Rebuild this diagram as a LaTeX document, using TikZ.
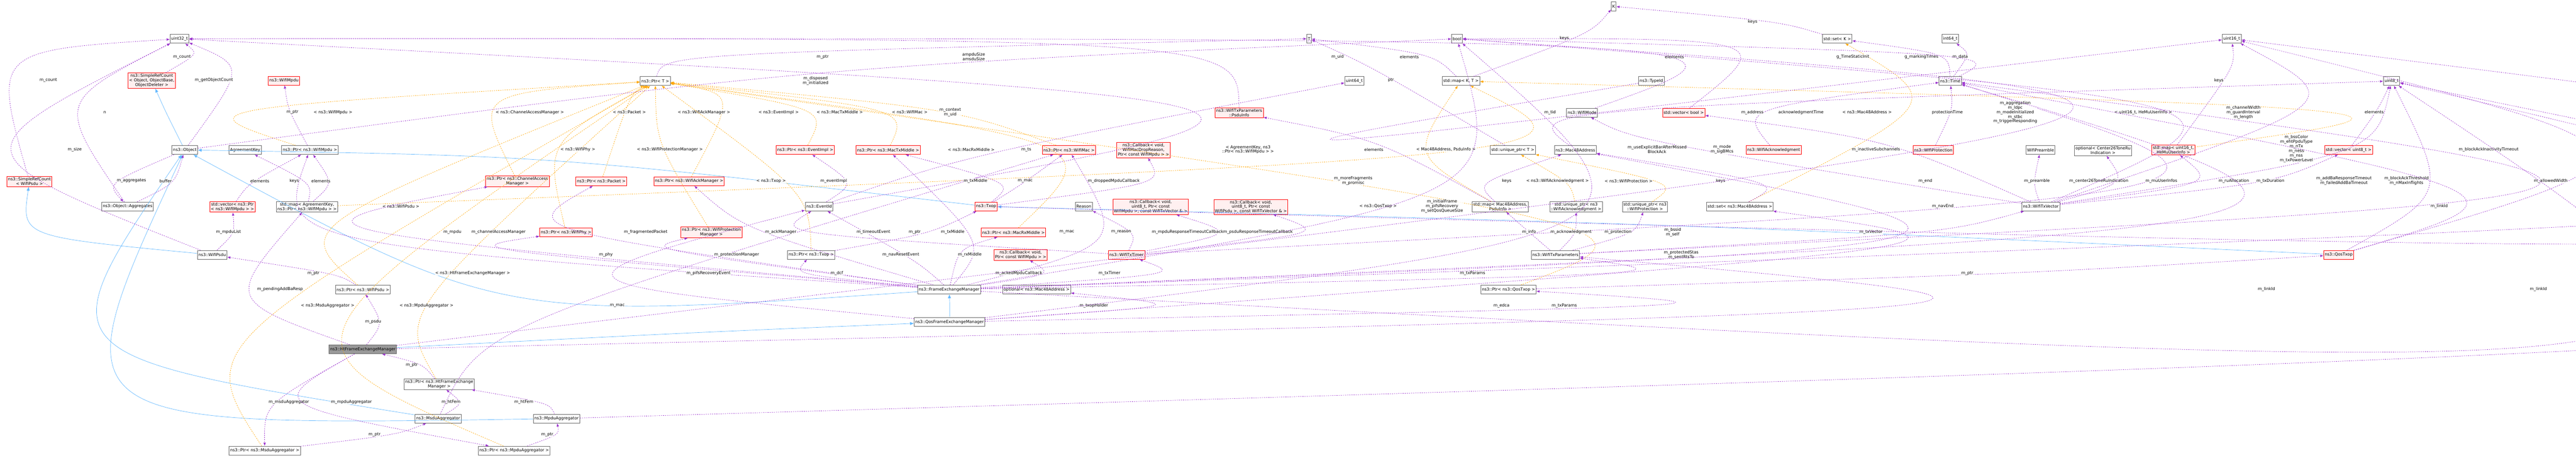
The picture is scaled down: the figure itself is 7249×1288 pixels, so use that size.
\documentclass[tikz,border=0pt]{standalone}
\usepackage{fontspec}
\setmainfont{DejaVu Sans}
\usetikzlibrary{calc,arrows.meta}
\definecolor{pur}{HTML}{9A32CD}
\definecolor{org}{HTML}{FFA500}
\definecolor{blu}{HTML}{63B8FF}
\definecolor{redbox}{HTML}{FF0000}
\definecolor{redfill}{HTML}{FFF0F0}
\tikzset{
 box/.style={draw=black!60,line width=1.2pt,fill=white,inner sep=3pt,minimum height=25pt,align=center,font=\fontsize{11.5}{13}\selectfont},
 rbox/.style={box,draw=redbox,fill=redfill},
 gbox/.style={box,fill=black!40},
 lbl/.style={font=\fontsize{11.5}{13}\selectfont,align=center,fill=white,fill opacity=.8,text opacity=1,inner sep=1pt},
 mem/.style={pur,dashed,line width=1pt,-{Latex[length=9pt,width=7pt]}},
 tmpl/.style={org,dashed,line width=1pt,-{Latex[length=9pt,width=7pt]}},
 inh/.style={blu,line width=1pt,-{Latex[length=11pt,width=9pt]}},
}
\newcommand\E[5]{\draw[#1] (#2) .. controls ($2*(#4)-0.5*(#2.center)-0.5*(#3.center)$) .. (#3);
 \node[lbl] at (#4) {#5};}
\newcommand\B[3]{\draw[inh] (#1) .. controls ($2*(#3)-0.5*(#1.center)-0.5*(#2.center)$) .. (#2);}
\begin{document}
\begin{tikzpicture}[x=1pt,y=-1pt]
\useasboundingbox (0,0) rectangle (7249,1288);
% nodes
\node[box] (u32) at (505,109) {uint32\_t};
\node[rbox] (srcObj) at (427,227) {ns3::SimpleRefCount\\< Object, ObjectBase,\\ObjectDeleter >};
\node[rbox] (wmpdu) at (799,227) {ns3::WifiMpdu};
\node[box] (obj) at (520,422) {ns3::Object};
\node[box] (agk) at (690,422) {AgreementKey};
\node[box] (pmpdu) at (872,422) {ns3::Ptr< ns3::WifiMpdu >};
\node[rbox] (srcPsdu) at (83,511) {ns3::SimpleRefCount\\< WifiPsdu >};
\node[box] (aggr) at (359,581) {ns3::Object::Aggregates};
\node[rbox] (vecmpdu) at (654,582) {std::vector< ns3::Ptr\\< ns3::WifiMpdu > >};
\node[box] (mapagk) at (864,582) {std::map< AgreementKey,\\ns3::Ptr< ns3::WifiMpdu > >};
\node[box] (psdu) at (597,717) {ns3::WifiPsdu};
\node[box] (ppsdu) at (1021,815) {ns3::Ptr< ns3::WifiPsdu >};
\node[gbox] (htfem) at (1021,983) {ns3::HtFrameExchangeManager};
\node[box] (phtfem) at (1236,1081) {ns3::Ptr< ns3::HtFrameExchange\\Manager >};
\node[box] (msdu) at (1233,1178) {ns3::MsduAggregator};
\node[box] (pmsdu) at (745,1268) {ns3::Ptr< ns3::MsduAggregator >};
\node[box] (ptrT) at (1844,228) {ns3::Ptr< T >};
\node[rbox] (pcam) at (1456,510) {ns3::Ptr< ns3::ChannelAccess\\Manager >};
\node[rbox] (ppkt) at (1692,510) {ns3::Ptr< ns3::Packet >};
\node[rbox] (pack) at (1939,510) {ns3::Ptr< ns3::WifiAckManager >};
\node[rbox] (pevi) at (2266,422) {ns3::Ptr< ns3::EventImpl >};
\node[box] (evid) at (2305,581) {ns3::EventId};
\node[rbox] (pphy) at (1593,654) {ns3::Ptr< ns3::WifiPhy >};
\node[rbox] (pprot) at (2002,654) {ns3::Ptr< ns3::WifiProtection\\Manager >};
\node[box] (ptxop) at (2283,717) {ns3::Ptr< ns3::Txop >};
\node[box] (mpdu) at (1566,1178) {ns3::MpduAggregator};
\node[box] (pmpduag) at (1447,1268) {ns3::Ptr< ns3::MpduAggregator >};
\node[rbox] (ptxm) at (2499,422) {ns3::Ptr< ns3::MacTxMiddle >};
\node[rbox] (psduinfo) at (3487,317) {ns3::WifiTxParameters\\::PsduInfo};
\node[rbox] (pmac) at (3008,422) {ns3::Ptr< ns3::WifiMac >};
\node[rbox] (cbdrop) at (3218,422) {ns3::Callback< void,\\ WifiMacDropReason,\\ Ptr< const WifiMpdu > >};
\node[rbox] (txop) at (2775,581) {ns3::Txop};
\node[box] (reason) at (3050,581) {Reason};
\node[rbox] (cbmpdu) at (3238,582) {ns3::Callback< void,\\ uint8\_t, Ptr< const\\ WifiMpdu >, const WifiTxVector \& >};
\node[rbox] (cbpsdu) at (3520,582) {ns3::Callback< void,\\ uint8\_t, Ptr< const\\ WifiPsdu >, const WifiTxVector \& >};
\node[rbox] (prxm) at (2852,654) {ns3::Ptr< ns3::MacRxMiddle >};
\node[rbox] (cback) at (2872,717) {ns3::Callback< void,\\ Ptr< const WifiMpdu > >};
\node[rbox] (txtimer) at (3170,717) {ns3::WifiTxTimer};
\node[box] (fem) at (2671,815) {ns3::FrameExchangeManager};
\node[box] (optmac) at (2917,815) {optional< ns3::Mac48Address >};
\node[box] (qfem) at (2672,906) {ns3::QosFrameExchangeManager};
\node[box] (K) at (4541,18) {K};
\node[box] (T) at (3684,109) {T};
\node[box] (bool) at (4100,109) {bool};
\node[box] (u64) at (3811,228) {uint64\_t};
\node[box] (mapKT) at (4111,228) {std::map< K, T >};
\node[box] (typeid) at (4647,228) {ns3::TypeId};
\node[box] (wmode) at (4452,317) {ns3::WifiMode};
\node[rbox] (vecbool) at (4738,317) {std::vector< bool >};
\node[box] (uptrT) at (4257,422) {std::unique\_ptr< T >};
\node[box] (mac) at (4433,422) {ns3::Mac48Address};
\node[box] (mapmac) at (4222,582) {std::map< Mac48Address,\\PsduInfo >};
\node[box] (upack) at (4435,582) {std::unique\_ptr< ns3\\::WifiAcknowledgment >};
\node[box] (upprot) at (4629,582) {std::unique\_ptr< ns3\\::WifiProtection >};
\node[box] (setmac) at (4896,581) {std::set< ns3::Mac48Address >};
\node[box] (txparams) at (4377,717) {ns3::WifiTxParameters};
\node[box] (pqtxop) at (4245,815) {ns3::Ptr< ns3::QosTxop >};
\node[box] (setK) at (5170,109) {std::set< K >};
\node[box] (i64) at (5488,109) {int64\_t};
\node[box] (time) at (5488,228) {ns3::Time};
\node[rbox] (wack) at (4991,422) {ns3::WifiAcknowledgment};
\node[rbox] (wprot) at (5440,422) {ns3::WifiProtection};
\node[box] (wpre) at (5742,422) {WifiPreamble};
\node[box] (optc) at (5918,424) {optional< Center26ToneRu\\Indication >};
\node[box] (txvec) at (5743,581) {ns3::WifiTxVector};
\node[box] (u16) at (6280,109) {uint16\_t};
\node[box] (u8) at (6730,228) {uint8\_t};
\node[rbox] (mapu16) at (6116,422) {std::map< uint16\_t,\\HeMuUserInfo >};
\node[rbox] (vecu8) at (6609,422) {std::vector< uint8\_t >};
\node[rbox] (qtxop) at (6581,717) {ns3::QosTxop};
% inheritance
\B{obj}{srcObj}{470,320}
\B{psdu}{srcPsdu}{200,640}
\B{txop}{obj}{1600,470}
\B{qtxop}{txop}{4700,640}
\B{fem}{obj}{1500,760}
\B{qfem}{fem}{2672,860}
\B{htfem}{qfem}{1900,940}
\B{msdu}{obj}{500,900}
\B{mpdu}{obj}{600,1000}
% templates
\E{tmpl}{pmpdu}{ptrT}{937,316}{< ns3::WifiMpdu >}
\E{tmpl}{ppsdu}{ptrT}{1128,581}{< ns3::WifiPsdu >}
\E{tmpl}{pmsdu}{ptrT}{922,860}{< ns3::MsduAggregator >}
\E{tmpl}{phtfem}{ptrT}{1330,769}{< ns3::HtFrameExchangeManager >}
\E{tmpl}{pmpduag}{ptrT}{1200,860}{< ns3::MpduAggregator >}
\E{tmpl}{pcam}{ptrT}{1491,316}{< ns3::ChannelAccessManager >}
\E{tmpl}{ppkt}{ptrT}{1771,316}{< ns3::Packet >}
\E{tmpl}{pphy}{ptrT}{1626,421}{< ns3::WifiPhy >}
\E{tmpl}{pack}{ptrT}{1981,316}{< ns3::WifiAckManager >}
\E{tmpl}{pprot}{ptrT}{1885,421}{< ns3::WifiProtectionManager >}
\E{tmpl}{pevi}{ptrT}{2191,316}{< ns3::EventImpl >}
\E{tmpl}{ptxop}{ptrT}{2170,509}{< ns3::Txop >}
\E{tmpl}{ptxm}{ptrT}{2363,316}{< ns3::MacTxMiddle >}
\E{tmpl}{pmac}{ptrT}{2560,316}{< ns3::WifiMac >}
\E{tmpl}{prxm}{ptrT}{2733,421}{< ns3::MacRxMiddle >}
\E{tmpl}{pqtxop}{ptrT}{3878,581}{< ns3::QosTxop >}
\E{tmpl}{mapagk}{mapKT}{3512,421}{< AgreementKey, ns3\\::Ptr< ns3::WifiMpdu > >}
\E{tmpl}{mapmac}{mapKT}{4069,421}{< Mac48Address, PsduInfo >}
\E{tmpl}{mapu16}{mapKT}{6031,316}{< uint16\_t, HeMuUserInfo >}
\E{tmpl}{upack}{uptrT}{4383,509}{< ns3::WifiAcknowledgment >}
\E{tmpl}{upprot}{uptrT}{4583,509}{< ns3::WifiProtection >}
\E{tmpl}{setmac}{setK}{5254,316}{< ns3::Mac48Address >}
% members
\E{mem}{srcPsdu}{u32}{136,226}{m\_count}
\E{mem}{srcObj}{u32}{512,160}{m\_count}
\E{mem}{obj}{u32}{602,226}{m\_getObjectCount}
\E{mem}{aggr}{u32}{295,316}{n}
\E{mem}{psdu}{u32}{210,421}{m\_size}
\E{mem}{obj}{aggr}{370,509}{m\_aggregates}
\E{mem}{aggr}{obj}{466,509}{buffer}
\E{mem}{pmpdu}{wmpdu}{823,316}{m\_ptr}
\E{mem}{vecmpdu}{pmpdu}{731,509}{elements}
\E{mem}{mapagk}{agk}{828,509}{keys}
\E{mem}{mapagk}{pmpdu}{903,509}{elements}
\E{mem}{psdu}{vecmpdu}{643,653}{m\_mpduList}
\E{mem}{ppsdu}{psdu}{882,769}{m\_ptr}
\E{mem}{htfem}{mapagk}{788,814}{m\_pendingAddBaResp}
\E{mem}{htfem}{ppsdu}{1050,905}{m\_psdu}
\E{mem}{phtfem}{htfem}{1159,1028}{m\_ptr}
\E{mem}{htfem}{pmsdu}{813,1132}{m\_msduAggregator}
\E{mem}{htfem}{pmpduag}{989,1132}{m\_mpduAggregator}
\E{mem}{pmsdu}{msdu}{1054,1223}{m\_ptr}
\E{mem}{pmpduag}{mpdu}{1540,1223}{m\_ptr}
\E{mem}{msdu}{phtfem}{1269,1132}{m\_htFem}
\E{mem}{mpdu}{phtfem}{1474,1132}{m\_htFem}
\E{mem}{msdu}{pmac}{1737,860}{m\_mac}
\E{mem}{fem}{pmpdu}{1273,653}{m\_mpdu}
\E{mem}{fem}{pcam}{1403,653}{m\_channelAccessManager}
\E{mem}{fem}{pphy}{1705,717}{m\_phy}
\E{mem}{fem}{ppkt}{1817,653}{m\_fragmentedPacket}
\E{mem}{fem}{pprot}{2073,717}{m\_protectionManager}
\E{mem}{fem}{pack}{2197,653}{m\_ackManager}
\E{mem}{fem}{ptxop}{2355,769}{m\_dcf}
\E{mem}{qfem}{evid}{1994,769}{m\_pifsRecoveryEvent}
\E{mem}{evid}{pevi}{2346,509}{m\_eventImpl}
\E{mem}{ptrT}{T}{2315,160}{m\_ptr}
\E{mem}{obj}{bool}{2295,227}{m\_disposed\\m\_initialized}
\E{mem}{evid}{u32}{2674,316}{m\_context\\m\_uid}
\E{mem}{evid}{u64}{2888,421}{m\_ts}
\E{mem}{txop}{ptxm}{2745,509}{m\_txMiddle}
\E{mem}{txop}{pmac}{2885,509}{m\_mac}
\E{mem}{txop}{cbdrop}{3134,509}{m\_droppedMpduCallback}
\E{mem}{fem}{ptxm}{2681,653}{m\_txMiddle}
\E{mem}{fem}{prxm}{2729,717}{m\_rxMiddle}
\E{mem}{fem}{pmac}{3002,653}{m\_mac}
\E{mem}{fem}{cback}{2867,769}{m\_ackedMpduCallback}
\E{mem}{fem}{txtimer}{3122,769}{m\_txTimer}
\E{mem}{fem}{evid}{2535,717}{m\_navResetEvent}
\E{mem}{txtimer}{reason}{3155,653}{m\_reason}
\E{mem}{txtimer}{cbmpdu}{3342,653}{m\_mpduResponseTimeoutCallback}
\E{mem}{txtimer}{cbpsdu}{3540,653}{m\_psduResponseTimeoutCallback}
\E{mem}{txtimer}{evid}{2458,653}{m\_timeoutEvent}
\E{mem}{ptxop}{txop}{2574,653}{m\_ptr}
\E{mem}{txtimer}{time}{5418,509}{m\_end}
\E{mem}{fem}{txparams}{4144,769}{m\_txParams}
\E{mem}{htfem}{txparams}{4402,860}{m\_txParams}
\E{mem}{txparams}{mapmac}{4303,653}{m\_info}
\E{mem}{txparams}{upack}{4421,653}{m\_acknowledgment}
\E{mem}{txparams}{upprot}{4553,653}{m\_protection}
\E{mem}{txparams}{txvec}{5265,653}{m\_txVector}
\E{mem}{mapmac}{mac}{4240,509}{keys}
\E{mem}{mapmac}{psduinfo}{3866,421}{elements}
\E{mem}{uptrT}{T}{3914,226}{ptr}
\E{mem}{mapKT}{K}{4402,108}{keys}
\E{mem}{mapKT}{T}{3966,160}{elements}
\E{mem}{setK}{K}{4932,62}{keys}
\E{mem}{vecbool}{bool}{4712,160}{elements}
\E{mem}{setmac}{mac}{4842,509}{keys}
\E{mem}{wack}{time}{5068,316}{acknowledgmentTime}
\E{mem}{wprot}{time}{5480,316}{protectionTime}
\E{mem}{time}{i64}{5516,160}{m\_data}
\E{mem}{time}{setK}{5407,160}{g\_markingTimes}
\E{mem}{time}{bool}{5214,160}{g\_TimeStaticInit}
\E{mem}{wmode}{u32}{3764,160}{m\_uid}
\E{mem}{txvec}{wmode}{4846,421}{m\_mode\\m\_sigBMcs}
\E{mem}{txvec}{wpre}{5732,509}{m\_preamble}
\E{mem}{txvec}{optc}{5906,509}{m\_center26ToneRuIndication}
\E{mem}{txvec}{mapu16}{6082,509}{m\_muUserInfos}
\E{mem}{txvec}{vecbool}{5279,421}{m\_inactiveSubchannels}
\E{mem}{txvec}{bool}{5671,316}{m\_aggregation\\m\_ldpc\\m\_modeInitialized\\m\_stbc\\m\_triggerResponding}
\E{mem}{txvec}{u16}{6313,316}{m\_channelWidth\\m\_guardInterval\\m\_length}
\E{mem}{txvec}{u8}{6462,419}{m\_bssColor\\m\_ehtPpduType\\m\_nTx\\m\_ness\\m\_nss\\m\_txPowerLevel}
\E{mem}{txvec}{vecu8}{6286,509}{m\_ruAllocation}
\E{mem}{txparams}{time}{6389,509}{m\_txDuration}
\E{mem}{mapu16}{u16}{6244,226}{keys}
\E{mem}{vecu8}{u8}{6681,316}{elements}
\E{mem}{qtxop}{u8}{6772,509}{m\_blockAckThreshold\\m\_nMaxInflights}
\E{mem}{qtxop}{time}{6596,509}{m\_addBaResponseTimeout\\m\_failedAddBaTimeout}
\E{mem}{qtxop}{u16}{7003,421}{m\_blockAckInactivityTimeout}
\E{mem}{txop}{u8}{6864,581}{m\_linkId}
\E{mem}{pqtxop}{qtxop}{5536,769}{m\_ptr}
\E{mem}{qfem}{pqtxop}{4225,860}{m\_edca}
\E{mem}{fem}{u16}{7178,509}{m\_allowedWidth}
\E{mem}{fem}{u8}{6378,814}{m\_linkId}
\E{mem}{mpdu}{u8}{7143,814}{m\_linkId}
\E{mem}{qfem}{optmac}{3078,860}{m\_txopHolder}
\E{mem}{fem}{mac}{4707,654}{m\_bssid\\m\_self}
\E{mem}{qfem}{setmac}{4731,717}{m\_protectedStas\\m\_sentRtsTo}
\E{mem}{fem}{bool}{3808,509}{m\_moreFragments\\m\_promisc}
\E{mem}{qfem}{bool}{4058,581}{m\_initialFrame\\m\_pifsRecovery\\m\_setQosQueueSize}
\E{mem}{htfem}{bool}{4663,420}{m\_useExplicitBarAfterMissed\\BlockAck}
\E{mem}{fem}{time}{5467,581}{m\_navEnd}
\E{mem}{mac}{u8}{4931,316}{m\_address}
\E{mem}{typeid}{u16}{4362,316}{m\_tid}
\E{mem}{psduinfo}{u32}{2740,160}{ampduSize\\amsduSize}
\end{tikzpicture}
\end{document}
